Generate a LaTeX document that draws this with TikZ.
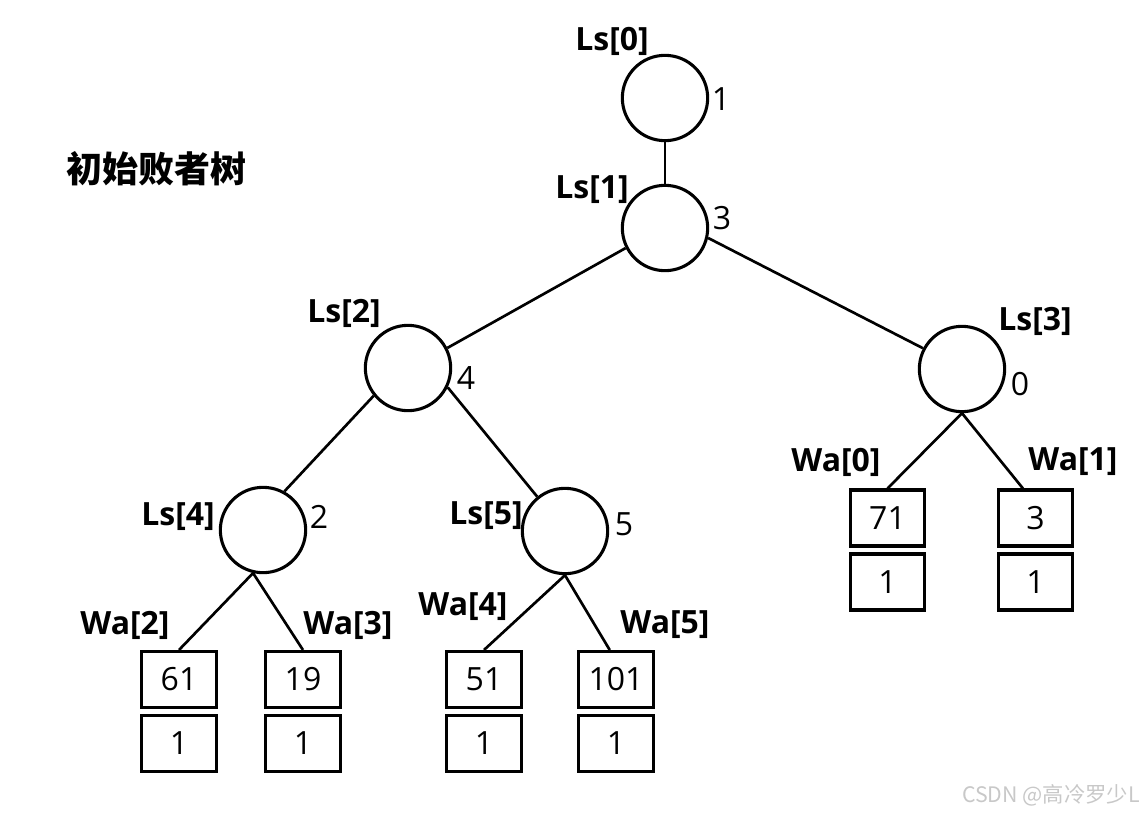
\documentclass[tikz,border=0pt]{standalone}
\usepackage{fontspec}
\setmainfont{Open Sans}
\newfontfamily\cjk{Noto Sans CJK SC}
\usepackage{tikz}
\usetikzlibrary{calc}
\tikzset{>=latex}
\definecolor{mygray2}{RGB}{200, 200, 200}

\begin{document}
\begin{tikzpicture}[x=0.75pt, y=-0.75pt,
  knot/.style={draw, circle, line width=2.3pt, minimum size=64pt, inner sep=0pt},
  cell/.style={draw, rectangle, line width=2.3pt, minimum width=56pt, minimum height=42pt, inner sep=0pt, font=\fontsize{24}{26}\selectfont},
  tag/.style={font=\fontsize{24}{26}\selectfont\bfseries, inner sep=0pt},
  num/.style={font=\fontsize{24}{26}\selectfont, inner sep=0pt},
  edge/.style={line width=2pt}]
\useasboundingbox (0,0) rectangle (1146,814);

\node[knot] (ls0) at (665, 98) {};
\node[knot] (ls1) at (665, 228) {};
\node[knot] (ls2) at (408, 368) {};
\node[knot] (ls3) at (962, 369) {};
\node[knot] (ls4) at (263, 530) {};
\node[knot] (ls5) at (565, 531) {};

\node[tag] (t0) at (612, 41) {Ls[0]};
\node[tag] (t1) at (592, 190) {Ls[1]};
\node[tag] (t2) at (344, 313) {Ls[2]};
\node[tag] (t3) at (1035, 321) {Ls[3]};
\node[tag] (t4) at (178, 517) {Ls[4]};
\node[tag] (t5) at (486, 516) {Ls[5]};

\node[num] (n0) at (721, 99) {1};
\node[num] (n1) at (722, 218) {3};
\node[num] (n2) at (466, 378) {4};
\node[num] (n3) at (1020, 384) {0};
\node[num] (n4) at (319, 517) {2};
\node[num] (n5) at (624, 524) {5};

\foreach \n/\x/\v in {2/179/61, 3/303/19, 4/484/51, 5/616/101}{
\node[cell] (wa\n) at (\x, 679.5) {\v};
\node[cell] (wb\n) at (\x, 743.5) {1};
}
\foreach \n/\x/\v in {0/887.5/71, 1/1035.5/3}{
\node[cell] (wa\n) at (\x, 518) {\v};
\node[cell] (wb\n) at (\x, 582) {1};
}

\node[tag] (w0) at (836, 462) {Wa[0]};
\node[tag] (w1) at (1073, 462) {Wa[1]};
\node[tag] (w2) at (125, 625) {Wa[2]};
\node[tag] (w3) at (348, 625) {Wa[3]};
\node[tag] (w4) at (463, 607) {Wa[4]};
\node[tag] (w5) at (665, 625) {Wa[5]};

\draw[edge] (ls0.south) -- (ls1.north);
\draw[edge] (ls1.207) -- (ls2.27);
\draw[edge] (ls1.-13) -- (ls3.152);
\draw[edge] (ls2.219) -- (ls4.61);
\draw[edge] (ls2.-26) -- (ls5.129);
\draw[edge] (ls4.-103) -- (wa2.north);
\draw[edge] (ls4.-103) -- (wa3.north);
\draw[edge] (ls5.south) -- (wa4.north);
\draw[edge] (ls5.south) -- (wa5.102);
\draw[edge] (ls3.south) -- (wa0.north);
\draw[edge] (ls3.south) -- (wa1.113);

\node[font=\fontsize{27}{29}\selectfont\cjk\bfseries, inner sep=0pt] (title) at (156, 169) {初始败者树};
\node[font=\fontsize{16}{18}\selectfont\cjk, text=mygray2, inner sep=0pt] (mark) at (1051, 795) {CSDN @高冷罗少L};
\end{tikzpicture}
\end{document}
